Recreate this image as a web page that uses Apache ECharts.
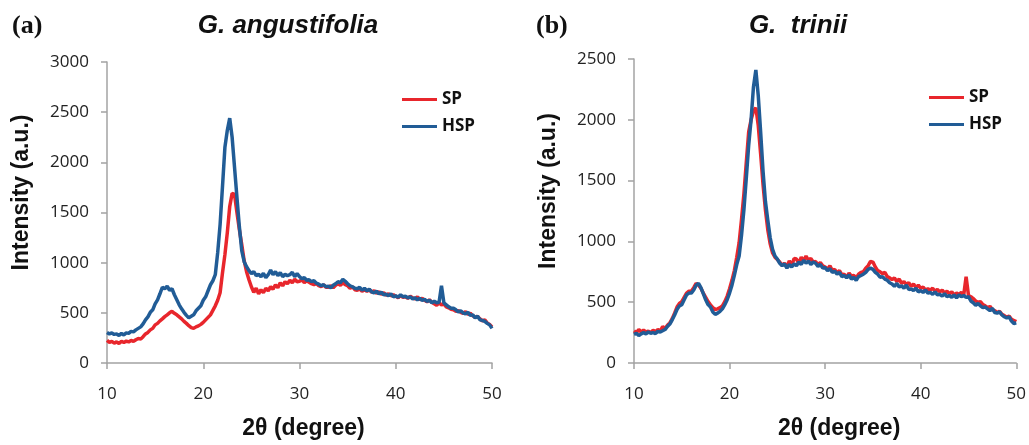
<!DOCTYPE html>
<html>
<head>
<meta charset="utf-8">
<script src="https://cdn.jsdelivr.net/npm/echarts@6.0.0/dist/echarts.min.js"></script>
<style>
  html, body { margin: 0; padding: 0; background: #fff; }
  #main { width: 1029px; height: 445px; }
</style>
</head>
<body>
<div id="main"></div>
<script>
// 2θ sampling: 10 to 50 degree, 0.25 degree step
var thetaStart = 10, thetaStep = 0.25;
var xTicks = [10, 20, 30, 40, 50];

// (a) G. angustifolia - one row per degree (x.00, x.25, x.50, x.75)
var angSP = [
    225, 205, 215, 198,
    210, 195, 215, 205,
    218, 210, 225, 215,
    232, 245, 238, 262,
    290, 305, 330, 345,
    380, 395, 420, 440,
    462, 480, 500, 515,
    495, 480, 460, 440,
    415, 395, 372, 352,
    345, 360, 370, 385,
    405, 430, 455, 480,
    525, 570, 625, 700,
    900, 1080, 1300, 1560,
    1690, 1680, 1500, 1330,
    1180, 1020, 910, 830,
    760, 705, 745, 690,
    730, 700, 745, 720,
    760, 735, 780, 750,
    800, 770, 810, 790,
    825, 800, 835, 810,
    815, 830, 800, 820,
    805, 790, 780, 795,
    770, 760, 780, 755,
    755, 770, 750, 775,
    790, 775, 800, 780,
    770, 745, 760, 730,
    725, 740, 715, 730,
    715, 730, 705, 720,
    695, 710, 685, 700,
    675, 690, 670, 680,
    665, 650, 672, 655,
    660, 645, 665, 650,
    640, 660, 632, 645,
    625, 610, 630, 605,
    590, 575, 600, 580,
    590, 560, 550, 535,
    530, 515, 520, 505,
    495, 510, 485, 495,
    470, 455, 465, 440,
    420, 430, 400, 385,
    360
];
var angHSP = [
    305, 290, 300, 285,
    290, 275, 295, 280,
    300, 295, 315, 310,
    330, 345, 360, 390,
    430, 460, 505, 530,
    590, 630, 690, 755,
    740, 765, 725, 740,
    680, 630, 580, 540,
    505, 475, 450, 465,
    480, 520, 545, 570,
    625, 660, 720, 780,
    820, 880, 1100, 1380,
    1760, 2150, 2320, 2440,
    2250, 1950, 1650, 1360,
    1120, 1010, 960, 920,
    890, 910, 870, 885,
    860, 895, 850, 880,
    925, 880, 910, 870,
    900, 860, 885, 870,
    880, 905, 860, 890,
    860, 840, 850, 825,
    830, 810, 820, 795,
    785, 770, 780, 760,
    765, 750, 775, 790,
    810, 800, 835, 815,
    790, 770, 760, 745,
    740, 755, 725, 745,
    720, 735, 710, 700,
    715, 690, 705, 680,
    685, 670, 690, 660,
    670, 655, 680, 660,
    665, 650, 660, 640,
    650, 630, 645, 625,
    635, 615, 625, 600,
    615, 600, 605, 770,
    600, 580, 560, 545,
    545, 530, 510, 520,
    500, 490, 505, 475,
    480, 450, 465, 430,
    425, 415, 395, 380,
    345
];

// (b) G. trinii
var triSP = [
    265, 250, 275, 255,
    270, 255, 262, 250,
    268, 258, 275, 262,
    300, 285, 310, 330,
    365, 410, 460, 490,
    505, 540, 575, 590,
    590, 620, 655, 640,
    615, 575, 540, 505,
    478, 455, 440, 445,
    455, 470, 505, 550,
    610, 680, 760, 870,
    990, 1180, 1390, 1650,
    1900, 2000, 2070, 2100,
    1955, 1720, 1470, 1260,
    1095, 980, 905, 870,
    850, 830, 805, 820,
    790, 840, 800, 860,
    855, 820, 870, 840,
    880, 845, 860, 830,
    835, 810, 825, 800,
    790, 770, 800, 760,
    770, 740, 760, 725,
    730, 705, 740, 715,
    720, 700, 730, 745,
    750, 780, 800, 835,
    830, 790, 760, 750,
    735, 745, 710, 700,
    685, 700, 670, 690,
    655, 670, 645, 660,
    630, 650, 620, 640,
    615, 625, 600, 610,
    600, 615, 590, 605,
    585, 600, 575, 590,
    570, 585, 560, 575,
    565, 580, 560, 710,
    555, 545, 530, 510,
    500, 505, 480, 470,
    455, 465, 440, 430,
    415, 425, 400, 390,
    375, 385, 360, 350,
    340
];
var triHSP = [
    235, 245, 225, 240,
    250, 240, 255, 245,
    250, 242, 260, 255,
    265, 275, 300, 320,
    355, 395, 440, 470,
    480, 520, 560, 575,
    575, 600, 640, 655,
    620, 570, 520, 480,
    460, 420, 400, 410,
    425, 445, 480, 520,
    575, 640, 720, 810,
    880, 1050, 1260, 1520,
    1790, 2000, 2270, 2410,
    2200, 1900, 1580, 1330,
    1175, 1030, 935, 880,
    855, 820, 800, 815,
    780, 810, 790, 815,
    800, 830, 810, 845,
    820, 840, 810, 830,
    820, 795, 810, 780,
    785, 760, 775, 745,
    755, 730, 745, 710,
    720, 700, 725, 690,
    705, 680, 710, 720,
    730, 745, 770, 780,
    770, 745, 730, 705,
    710, 690, 680, 660,
    650, 630, 655, 625,
    635, 615, 640, 605,
    610, 595, 615, 585,
    595, 580, 600, 575,
    580, 565, 585, 560,
    565, 550, 570, 545,
    555, 540, 560, 535,
    560, 545, 555, 540,
    545, 510, 495, 475,
    490, 470, 455, 460,
    445, 430, 450, 415,
    410, 420, 395, 380,
    370, 380, 345, 325,
    330
];

var RED = '#e8262c', BLUE = '#215c96', AXIS = '#a3a3a3';

//把强度数组配上2θ
function toPairs(values) {
    var out = [];
    for (var i = 0; i < values.length; i++) {
        out.push([thetaStart + i * thetaStep, values[i]]);
    }
    return out;
}

function xAxisFor(idx, namePad) {
    return {
        type: 'value', gridIndex: idx,
        min: xTicks[0], max: xTicks[xTicks.length - 1], interval: 10,
        name: '2θ (degree)', nameLocation: 'middle', nameGap: 54,
        nameTextStyle: { fontFamily: 'Liberation Sans', fontWeight: 'bold', fontSize: 23, color: '#111', padding: namePad },
        axisLine: { show: true, onZero: false, lineStyle: { color: AXIS, width: 1.5 } },
        axisTick: { show: true, length: 6, lineStyle: { color: AXIS, width: 1.5 } },
        axisLabel: { fontFamily: 'Open Sans', fontSize: 17, color: '#222', margin: 23 },
        splitLine: { show: false }
    };
}

function yAxisFor(idx, max) {
    return {
        type: 'value', gridIndex: idx,
        min: 0, max: max, interval: 500,
        name: 'Intensity (a.u.)', nameLocation: 'middle', nameGap: 74,
        nameTextStyle: { fontFamily: 'Liberation Sans', fontWeight: 'bold', fontSize: 23, color: '#111', padding: [0, 0, 0, 40] },
        axisLine: { show: true, lineStyle: { color: AXIS, width: 1.5 } },
        axisTick: { show: true, length: 6, lineStyle: { color: AXIS, width: 1.5 } },
        axisLabel: {
            fontFamily: 'Open Sans', fontSize: 17, color: '#222', margin: 18,
            formatter: function (v) { return String(v); }   // no thousands comma
        },
        splitLine: { show: false }
    };
}

function lineSeries(name, color, xi, values) {
    return {
        name: name, type: 'line', xAxisIndex: xi, yAxisIndex: xi,
        data: toPairs(values), symbol: 'none', smooth: false,
        lineStyle: { color: color, width: 3.5 }, itemStyle: { color: color },
        animation: false
    };
}

var legendText = { fontFamily: 'Open Sans', fontWeight: 'bold', fontSize: 17, color: '#111' };

var myChart = echarts.init(document.getElementById('main'));
var option = {
    backgroundColor: '#fff',
    animation: false,
    title: [
        { text: 'G. angustifolia', left: 288, top: 13, textAlign: 'center', padding: 0,
          textStyle: { fontFamily: 'Liberation Sans', fontWeight: 'bold', fontStyle: 'italic', fontSize: 26, color: '#111' } },
        { text: 'G.  trinii', left: 798, top: 13, textAlign: 'center', padding: 0,
          textStyle: { fontFamily: 'Liberation Sans', fontWeight: 'bold', fontStyle: 'italic', fontSize: 26, color: '#111' } }
    ],
    graphic: [
        { type: 'text', left: 12, top: 13, style: { text: '(a)', font: 'bold 26px "Liberation Serif"', fill: '#111' } },
        { type: 'text', left: 536, top: 13, style: { text: '(b)', font: 'bold 26px "Liberation Serif"', fill: '#111' } }
    ],
    legend: [
        { data: ['SP', 'HSP'], orient: 'vertical', left: 397, top: 86, itemWidth: 35, itemHeight: 20, itemGap: 10,
          icon: 'path://M0,9 L35,9 L35,12 L0,12 Z', textStyle: legendText },
        { data: ['SP ', 'HSP '], orient: 'vertical', left: 924, top: 84, itemWidth: 35, itemHeight: 20, itemGap: 10,
          icon: 'path://M0,9 L35,9 L35,12 L0,12 Z', textStyle: legendText }
    ],
    grid: [
        { left: 107, right: 537, top: 62, bottom: 78 },
        { left: 634, right: 10, top: 59, bottom: 76 }
    ],
    xAxis: [xAxisFor(0, [0, 0, 0, 8]), xAxisFor(1, [0, 0, 0, 28])],
    yAxis: [yAxisFor(0, 3000), yAxisFor(1, 2500)],
    series: [
        lineSeries('SP', RED, 0, angSP),
        lineSeries('HSP', BLUE, 0, angHSP),
        lineSeries('SP ', RED, 1, triSP),
        lineSeries('HSP ', BLUE, 1, triHSP)
    ]
};
myChart.setOption(option);
</script>
</body>
</html>
